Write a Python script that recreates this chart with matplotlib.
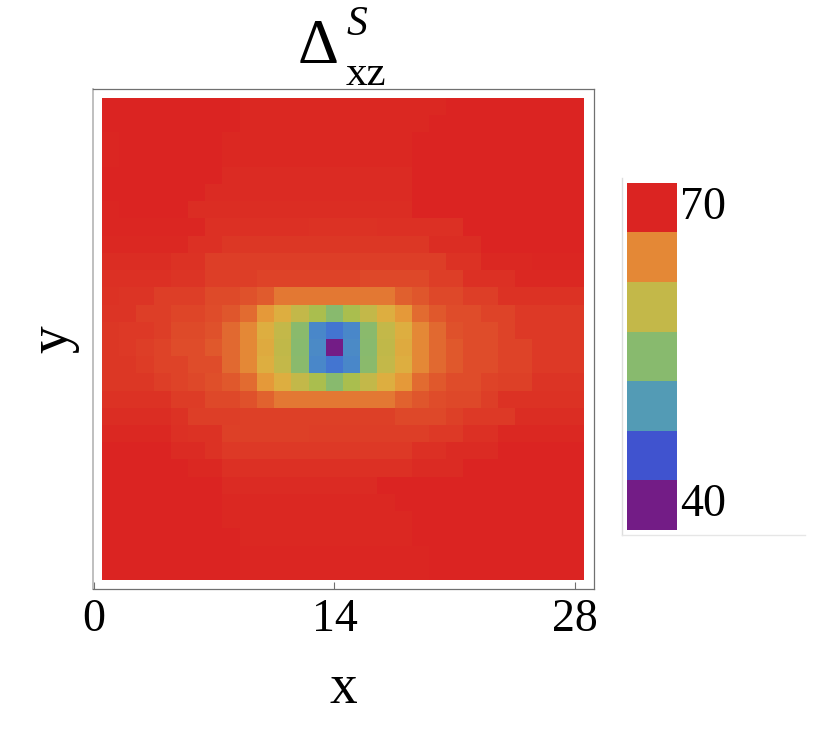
import numpy as np
import matplotlib
matplotlib.use("Agg")
import matplotlib.pyplot as plt
from matplotlib.colors import LinearSegmentedColormap, Normalize
from matplotlib.lines import Line2D

plt.rcParams["font.family"] = ["Liberation Serif", "DejaVu Serif"]

# grid of Delta^S_xz values, rows from top (y=28) to bottom (y=1), columns x=1..28
delta_rows = [
    [70.0, 70.0, 70.0, 70.0, 70.0, 70.0, 70.0, 70.0, 69.7, 69.7, 69.7, 69.7, 69.7, 69.7, 69.7, 69.7, 69.7, 69.7, 69.7, 69.7, 70.0, 70.0, 70.0, 70.0, 70.0, 70.0, 70.0, 70.0],
    [69.9, 70.0, 70.0, 70.0, 70.0, 70.0, 70.0, 70.0, 69.7, 69.7, 69.7, 69.7, 69.7, 69.7, 69.7, 69.7, 69.7, 69.7, 69.7, 70.0, 70.0, 70.0, 70.0, 70.0, 70.0, 70.0, 70.0, 70.0],
    [69.8, 70.0, 70.0, 70.0, 70.0, 70.0, 70.0, 69.7, 69.7, 69.7, 69.7, 69.7, 69.7, 69.7, 69.7, 69.7, 69.7, 69.7, 70.0, 70.0, 70.0, 70.0, 70.0, 70.0, 70.0, 70.0, 70.0, 70.0],
    [69.8, 70.0, 70.0, 70.0, 70.0, 70.0, 70.0, 69.7, 69.7, 69.7, 69.7, 69.7, 69.7, 69.7, 69.7, 69.7, 69.7, 69.7, 70.0, 70.0, 70.0, 70.0, 70.0, 70.0, 70.0, 70.0, 70.0, 70.0],
    [69.9, 69.9, 69.9, 69.9, 69.9, 69.9, 69.9, 69.6, 69.6, 69.6, 69.6, 69.6, 69.6, 69.6, 69.6, 69.6, 69.6, 69.6, 69.9, 69.9, 69.9, 69.9, 69.9, 69.9, 69.9, 69.9, 69.9, 69.9],
    [69.9, 69.9, 69.9, 69.9, 69.9, 69.9, 69.6, 69.6, 69.6, 69.6, 69.6, 69.6, 69.6, 69.6, 69.6, 69.6, 69.6, 69.6, 69.9, 69.9, 69.9, 69.9, 69.9, 69.9, 69.9, 69.9, 69.9, 69.9],
    [69.8, 69.9, 69.9, 69.9, 69.9, 69.5, 69.5, 69.5, 69.5, 69.5, 69.5, 69.5, 69.5, 69.5, 69.5, 69.5, 69.5, 69.5, 69.9, 69.9, 69.9, 69.9, 69.9, 69.9, 69.9, 69.9, 69.9, 69.9],
    [69.8, 69.8, 69.8, 69.8, 69.8, 69.8, 69.4, 69.4, 69.4, 69.4, 69.4, 69.4, 69.2, 69.2, 69.2, 69.2, 69.4, 69.4, 69.4, 69.4, 69.4, 69.9, 69.9, 69.9, 69.9, 69.9, 69.9, 69.9],
    [69.7, 69.7, 69.7, 69.7, 69.7, 69.4, 69.4, 69.0, 69.0, 69.0, 69.0, 69.0, 69.0, 69.0, 69.0, 69.0, 69.0, 69.0, 69.0, 69.5, 69.5, 69.5, 69.9, 69.9, 69.9, 69.9, 69.9, 69.9],
    [69.5, 69.5, 69.5, 69.5, 69.2, 69.2, 68.7, 68.7, 68.7, 68.7, 68.7, 68.7, 68.7, 68.7, 68.7, 68.7, 68.7, 68.7, 68.7, 68.7, 69.2, 69.2, 69.7, 69.7, 69.7, 69.8, 69.8, 69.8],
    [69.4, 69.4, 69.4, 69.4, 69.1, 69.1, 68.7, 68.7, 68.7, 68.4, 68.4, 68.4, 68.4, 68.4, 68.4, 68.2, 68.2, 68.2, 68.2, 68.6, 68.6, 69.3, 69.3, 69.3, 69.7, 69.7, 69.7, 69.7],
    [69.2, 69.1, 69.1, 68.7, 68.7, 68.7, 68.1, 68.1, 67.7, 67.2, 65.8, 65.8, 65.8, 65.8, 65.8, 65.8, 65.8, 67.0, 67.5, 68.2, 68.2, 68.6, 68.6, 69.2, 69.2, 69.2, 69.2, 69.2],
    [69.1, 69.1, 68.7, 68.7, 68.3, 68.3, 68.0, 67.5, 66.4, 63.5, 62.0, 60.0, 57.5, 55.0, 57.5, 60.0, 62.0, 63.5, 66.4, 67.4, 68.0, 68.0, 68.4, 68.4, 68.9, 68.9, 68.9, 68.9],
    [69.0, 68.9, 68.9, 68.6, 68.1, 68.1, 67.7, 66.6, 65.0, 62.0, 60.0, 55.2, 48.5, 47.0, 48.5, 55.2, 60.0, 62.0, 65.0, 66.6, 67.7, 68.0, 68.0, 68.4, 68.9, 68.9, 68.9, 68.9],
    [69.0, 68.9, 68.6, 68.4, 68.0, 68.0, 67.4, 66.5, 65.0, 62.2, 59.7, 55.1, 48.7, 40.0, 48.7, 55.1, 59.8, 62.2, 65.0, 66.5, 67.4, 68.0, 68.0, 68.4, 68.4, 68.9, 68.9, 68.9],
    [69.0, 69.0, 68.8, 68.4, 68.4, 68.0, 68.0, 66.6, 65.0, 62.0, 60.0, 55.2, 48.5, 47.0, 48.5, 55.2, 60.0, 62.0, 65.0, 66.6, 67.4, 68.0, 68.0, 68.4, 68.4, 68.9, 68.9, 68.9],
    [69.0, 69.0, 69.0, 68.7, 68.4, 68.2, 67.8, 67.4, 66.4, 63.5, 62.0, 60.0, 57.5, 55.0, 57.5, 60.0, 62.0, 63.5, 66.4, 67.4, 68.0, 68.0, 68.4, 68.5, 68.5, 69.1, 69.1, 69.1],
    [69.2, 69.2, 69.2, 69.2, 68.8, 68.8, 68.2, 68.2, 67.7, 66.9, 65.8, 65.8, 65.8, 65.8, 65.8, 65.8, 65.8, 66.9, 67.5, 68.0, 68.2, 68.2, 68.7, 69.2, 69.2, 69.2, 69.2, 69.2],
    [69.5, 69.5, 69.5, 69.5, 69.2, 68.7, 68.7, 68.7, 68.5, 68.5, 68.5, 68.5, 68.5, 68.5, 68.5, 68.5, 68.5, 68.2, 68.2, 68.2, 68.5, 68.9, 68.9, 68.9, 69.5, 69.5, 69.5, 69.5],
    [69.7, 69.7, 69.7, 69.7, 69.4, 69.2, 69.2, 68.5, 68.5, 68.5, 68.5, 68.5, 68.7, 68.7, 68.7, 68.7, 68.7, 68.7, 68.7, 68.9, 68.9, 69.3, 69.3, 69.7, 69.7, 69.7, 69.7, 69.7],
    [69.9, 69.9, 69.9, 69.9, 69.6, 69.6, 69.2, 68.9, 68.9, 68.9, 68.9, 68.9, 68.9, 68.9, 68.9, 68.9, 68.9, 68.9, 69.3, 69.3, 69.6, 69.6, 69.6, 69.9, 69.9, 69.9, 69.9, 69.9],
    [69.9, 69.9, 69.9, 69.9, 69.9, 69.7, 69.7, 69.4, 69.4, 69.4, 69.4, 69.4, 69.4, 69.4, 69.4, 69.4, 69.4, 69.4, 69.6, 69.6, 69.6, 69.9, 69.9, 69.9, 69.9, 69.9, 69.9, 69.9],
    [69.9, 69.9, 69.9, 69.9, 69.9, 69.9, 69.9, 69.6, 69.6, 69.6, 69.6, 69.6, 69.6, 69.6, 69.6, 69.6, 70.0, 70.0, 70.0, 70.0, 70.0, 70.0, 70.0, 70.0, 70.0, 70.0, 70.0, 70.0],
    [70.0, 70.0, 70.0, 70.0, 70.0, 70.0, 70.0, 69.7, 69.7, 69.7, 69.7, 69.7, 69.7, 69.7, 69.7, 69.7, 69.7, 70.0, 70.0, 70.0, 70.0, 70.0, 70.0, 70.0, 70.0, 70.0, 70.0, 70.0],
    [70.0, 70.0, 70.0, 70.0, 70.0, 70.0, 70.0, 69.7, 69.7, 69.7, 69.7, 69.7, 69.7, 69.7, 69.7, 69.7, 69.7, 69.7, 70.0, 70.0, 70.0, 70.0, 70.0, 70.0, 70.0, 70.0, 70.0, 70.0],
    [70.0, 70.0, 70.0, 70.0, 70.0, 70.0, 70.0, 70.0, 69.7, 69.7, 69.7, 69.7, 69.7, 69.7, 69.7, 69.7, 69.7, 69.7, 70.0, 70.0, 70.0, 70.0, 70.0, 70.0, 70.0, 70.0, 70.0, 70.0],
    [70.0, 70.0, 70.0, 70.0, 70.0, 70.0, 70.0, 70.0, 69.8, 69.8, 69.8, 69.8, 69.8, 69.8, 69.8, 69.8, 69.8, 69.8, 69.8, 70.0, 70.0, 70.0, 70.0, 70.0, 70.0, 70.0, 70.0, 70.0],
    [70.0, 70.0, 70.0, 70.0, 70.0, 70.0, 70.0, 70.0, 69.8, 69.8, 69.8, 69.8, 69.8, 69.8, 69.8, 69.8, 69.8, 69.8, 69.8, 70.0, 70.0, 70.0, 70.0, 70.0, 70.0, 70.0, 70.0, 70.0],
]

x_ticks = [0, 14, 28]
legend_levels = [40, 45, 50, 55, 60, 65, 70]
legend_labels = {70: "70", 40: "40"}

# colour scale (value -> colour), Mathematica-like rainbow
cmap_values = [40, 45, 47, 48.5, 50, 55, 57.5, 60, 62, 63.5, 65, 70]
cmap_colors = ["#731C86", "#4054D0", "#4477D2", "#4A88C9", "#539BB5", "#88BA6F",
               "#AABF4F", "#C3B849", "#DDAE40", "#E69A3A", "#E58A37", "#DB2422"]

vmin, vmax = 40, 70
cmap = LinearSegmentedColormap.from_list(
    "rainbow_m", [((v - vmin) / (vmax - vmin), c) for v, c in zip(cmap_values, cmap_colors)])
norm = Normalize(vmin=vmin, vmax=vmax)

data = np.array(delta_rows)
n = data.shape[0]

fig = plt.figure(figsize=(8.22, 7.29), dpi=100)
ax = fig.add_axes([93 / 822, 1 - 589 / 729, 501 / 822, 500 / 729])
ax.imshow(data, cmap=cmap, norm=norm, origin="upper", interpolation="nearest",
          extent=(0.5, n + 0.5, 0.5, n + 0.5), aspect="auto")
ax.set_xlim(-0.05, 29.1)
ax.set_ylim(-0.05, 29.05)

for side in ["top", "right", "bottom"]:
    ax.spines[side].set_color("#707070")
    ax.spines[side].set_linewidth(0.9)
ax.spines["left"].set_color("#B4B4B4")
ax.spines["left"].set_linewidth(1.2)

ax.set_xticks(x_ticks)
ax.set_xticklabels([str(t) for t in x_ticks])
ax.tick_params(axis="x", direction="in", length=5, width=0.8, color="#707070",
               labelsize=33, pad=7, top=False)
ax.tick_params(axis="y", left=False, labelleft=False, right=False)

ax.set_xlabel("x", fontsize=40, labelpad=16)
ax.set_ylabel("y", fontsize=40, labelpad=10)

# title  Delta^S_xz
fig.text(318 / 822, 1 - 63 / 729, "\u0394", fontsize=46, ha="center", va="baseline")
fig.text(357 / 822, 1 - 35 / 729, "S", fontsize=30, style="italic", ha="center", va="baseline")
fig.text(366 / 822, 1 - 85 / 729, "xz", fontsize=31, ha="center", va="baseline")

# legend bar
cax = fig.add_axes([627 / 822, 1 - 530 / 729, 50 / 822, 347 / 729])
cax.imshow(np.array(legend_levels)[::-1].reshape(-1, 1), cmap=cmap, norm=norm,
           aspect="auto", interpolation="nearest")
cax.set_axis_off()
band_h = 347 / 729 / len(legend_levels)
cb_bottom = 1 - 530 / 729
for i, lev in enumerate(legend_levels):
    if lev in legend_labels:
        yc = cb_bottom + band_h * (i + 0.5)
        fig.text(680 / 822, yc, legend_labels[lev], fontsize=33, ha="left", va="center")

fig.add_artist(Line2D([622 / 822, 622 / 822], [1 - 178 / 729, 1 - 535 / 729],
                      color="#DDDDDD", linewidth=1.0))
fig.add_artist(Line2D([622 / 822, 805 / 822], [1 - 535 / 729, 1 - 535 / 729],
                      color="#E6E6E6", linewidth=1.0))

fig.savefig("out.png", dpi=100)
